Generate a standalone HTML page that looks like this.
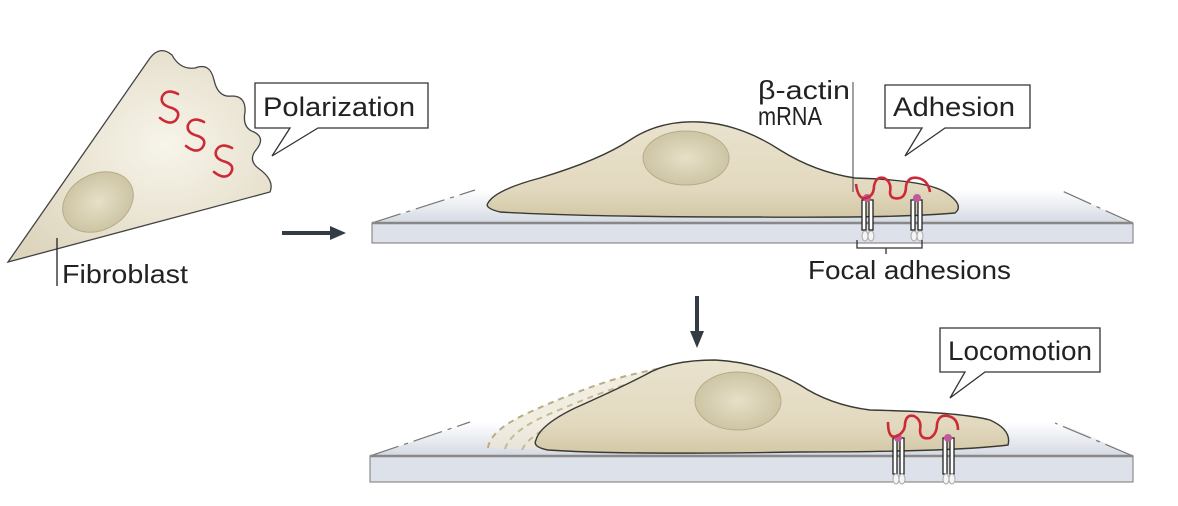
<!DOCTYPE html>
<html><head><meta charset="utf-8"><style>
html,body{margin:0;padding:0;background:#fff;width:1178px;height:506px;overflow:hidden}
svg{display:block}
text{font-family:"Liberation Sans","DejaVu Sans",sans-serif;fill:#222}
</style></head><body>
<svg width="1178" height="506" viewBox="0 0 1178 506">
<defs>
<radialGradient id="cellg" cx="0.6" cy="0.45" r="0.7"><stop offset="0" stop-color="#f7f4ea"/><stop offset="1" stop-color="#ddd5bd"/></radialGradient>
<linearGradient id="cellf" x1="0" y1="0" x2="0" y2="1"><stop offset="0" stop-color="#e9e2cd"/><stop offset="0.7" stop-color="#e2d9bf"/><stop offset="1" stop-color="#d3c8a6"/></linearGradient>
<radialGradient id="nuc" cx="0.5" cy="0.5" r="0.6"><stop offset="0" stop-color="#e6e0c8"/><stop offset="1" stop-color="#c8bf9c"/></radialGradient>
<linearGradient id="plat" x1="0" y1="0" x2="0" y2="1"><stop offset="0" stop-color="#ffffff"/><stop offset="1" stop-color="#d4d9e2"/></linearGradient>
</defs>

<g>
<path d="M8,262 L150,58 Q160,45 172,55 Q180,70 195,68 Q210,62 214,80 Q218,98 232,96 Q246,96 245,112 Q242,128 254,132 Q266,138 256,150 Q248,160 258,168 Q275,180 270,192 Z" fill="url(#cellg)" stroke="#444" stroke-width="1.3"/>
<ellipse cx="98" cy="202" rx="37" ry="28" transform="rotate(-28 98 202)" fill="url(#nuc)" stroke="#b5ac8a" stroke-width="1"/>
<g fill="none" stroke="#cc2a36" stroke-width="2.6" stroke-linecap="round">
<path d="M178,94 Q166,88 162,97 Q160,105 172,108 Q182,112 176,120 Q170,126 160,118"/>
<path d="M204,122 Q192,116 188,125 Q186,133 198,136 Q208,140 202,148 Q196,154 186,146"/>
<path d="M232,148 Q220,142 216,151 Q214,159 226,162 Q236,166 230,174 Q224,180 214,172"/>
</g>
</g>
<line x1="57" y1="238" x2="57" y2="286" stroke="#222" stroke-width="1.3"/>
<text x="62" y="283" font-size="26" textLength="126" lengthAdjust="spacingAndGlyphs">Fibroblast</text>

<g>
<path d="M255,83 H428 V128 H318 L272,156 L290,128 H255 Z" fill="#fff" stroke="#333" stroke-width="1.3"/>
<text x="263" y="116" font-size="27" textLength="152" lengthAdjust="spacingAndGlyphs">Polarization</text>
</g>

<g>
<line x1="282" y1="233" x2="333" y2="233" stroke="#333b45" stroke-width="4"/>
<path d="M330,226 L346,233 L330,240 Z" fill="#333b45"/>
</g>

<g>
<path d="M372,223 L475,190 L1060,190 L1133,223 Z" fill="url(#plat)"/>
<path d="M372,223 L475,190" stroke="#777" stroke-width="1.2" stroke-dasharray="30,6,4,6" fill="none"/>
<path d="M1133,223 L1060,190" stroke="#777" stroke-width="1.2" stroke-dasharray="30,6,4,6" fill="none"/>
<rect x="372" y="223" width="761" height="20" fill="#dde1e9" stroke="#777" stroke-width="1"/>
<line x1="372" y1="223" x2="1133" y2="223" stroke="#888" stroke-width="2.5"/>
</g>
<g>
<path d="M488,203 Q495,190 540,178 Q600,160 630,140 Q660,120 700,122 Q740,124 780,150 Q815,172 855,178 Q925,180 945,192 Q965,205 955,213 Q900,218 760,217 Q580,217 500,212 Q484,208 488,203 Z" fill="url(#cellf)" stroke="#3a3a34" stroke-width="1.4"/>
<ellipse cx="686" cy="158" rx="43" ry="27" fill="url(#nuc)" stroke="#b5ac8a" stroke-width="1"/>
</g>
<g>
<g stroke="#222" stroke-width="1.3" fill="#fff">
<rect x="862" y="200" width="4" height="30"/><rect x="869" y="200" width="4" height="30"/>
<rect x="911" y="200" width="4" height="30"/><rect x="918" y="200" width="4" height="30"/>
</g>
<g stroke="#aaa" stroke-width="1" fill="#f4f4f4">
<ellipse cx="865" cy="236" rx="3" ry="5"/><ellipse cx="871" cy="236" rx="3" ry="5"/>
<ellipse cx="914" cy="236" rx="3" ry="5"/><ellipse cx="920" cy="236" rx="3" ry="5"/>
</g>
<circle cx="867" cy="198" r="4" fill="#c05a9a"/><circle cx="917" cy="198" r="4" fill="#c05a9a"/>
<path d="M856,184 Q858,200 866,198 Q874,196 874,186 Q876,176 884,178 Q892,182 890,192 Q890,200 900,198 Q906,196 906,186 Q908,176 918,178 Q928,180 930,192" fill="none" stroke="#cc2a36" stroke-width="2.6"/>
</g>
<line x1="853" y1="82" x2="853" y2="192" stroke="#444" stroke-width="1"/>
<text x="758" y="99" font-size="26" textLength="92" lengthAdjust="spacingAndGlyphs">β-actin</text>
<text x="758" y="125" font-size="26" textLength="64" lengthAdjust="spacingAndGlyphs">mRNA</text>
<g>
<path d="M885,85 H1030 V128 H945 L905,156 L922,128 H885 Z" fill="#fff" stroke="#333" stroke-width="1.3"/>
<text x="893" y="116" font-size="27" textLength="122" lengthAdjust="spacingAndGlyphs">Adhesion</text>
</g>
<path d="M857,240 V248 H922 V240 M886,248 V254" fill="none" stroke="#333" stroke-width="1.3"/>
<text x="808" y="279" font-size="26" textLength="203" lengthAdjust="spacingAndGlyphs">Focal adhesions</text>

<g>
<line x1="697" y1="296" x2="697" y2="334" stroke="#333b45" stroke-width="4"/>
<path d="M690,331 L697,348 L704,331 Z" fill="#333b45"/>
</g>

<g>
<path d="M370,456 L470,422 L1060,422 L1133,456 Z" fill="url(#plat)"/>
<path d="M370,456 L470,422" stroke="#777" stroke-width="1.2" stroke-dasharray="30,6,4,6" fill="none"/>
<path d="M1133,456 L1055,423" stroke="#777" stroke-width="1.2" stroke-dasharray="30,6,4,6" fill="none"/>
<rect x="370" y="456" width="763" height="26" fill="#dde1e9" stroke="#777" stroke-width="1"/>
<line x1="370" y1="456" x2="1133" y2="456" stroke="#888" stroke-width="2.5"/>
</g>
<g>
<path d="M488,448 Q490,430 530,412 Q590,385 630,375 Q660,368 690,362 L700,380 Q600,400 560,430 L548,450 Z" fill="#ece6d4" opacity="0.7"/>
<path d="M488,448 Q490,430 530,412 Q590,385 630,375 Q660,368 690,362" fill="none" stroke="#b8ad86" stroke-width="2" stroke-dasharray="6,5"/>
<path d="M505,449 Q510,432 545,416 Q600,392 640,380 Q665,372 690,368" fill="none" stroke="#c4ba96" stroke-width="2" stroke-dasharray="6,5"/>
<path d="M522,450 Q528,436 560,421 Q610,398 648,386" fill="none" stroke="#c4ba96" stroke-width="2" stroke-dasharray="6,5"/>
</g>
<g>
<path d="M536,440 Q540,425 575,408 Q620,388 645,375 Q670,360 715,360 Q760,362 800,385 Q830,405 870,410 Q960,412 990,420 Q1012,430 1008,445 Q950,452 800,452 Q620,455 548,450 Q532,447 536,440 Z" fill="url(#cellf)" stroke="#3a3a34" stroke-width="1.4"/>
<ellipse cx="738" cy="401" rx="43" ry="29" fill="url(#nuc)" stroke="#b5ac8a" stroke-width="1"/>
</g>
<g>
<g stroke="#222" stroke-width="1.3" fill="#fff">
<rect x="893" y="438" width="4" height="36"/><rect x="900" y="438" width="4" height="36"/>
<rect x="943" y="438" width="4" height="36"/><rect x="950" y="438" width="4" height="36"/>
</g>
<g stroke="#aaa" stroke-width="1" fill="#f4f4f4">
<ellipse cx="896" cy="479" rx="3" ry="5"/><ellipse cx="902" cy="479" rx="3" ry="5"/>
<ellipse cx="946" cy="479" rx="3" ry="5"/><ellipse cx="952" cy="479" rx="3" ry="5"/>
</g>
<circle cx="898" cy="438" r="4" fill="#c05a9a"/><circle cx="948" cy="438" r="4" fill="#c05a9a"/>
<path d="M888,422 Q888,440 897,436 Q905,432 905,424 Q906,414 914,416 Q922,420 920,430 Q920,440 930,438 Q937,434 937,424 Q939,414 948,416 Q958,418 958,430" fill="none" stroke="#cc2a36" stroke-width="2.6"/>
</g>
<g>
<path d="M940,328 H1100 V372 H985 L950,398 L965,372 H940 Z" fill="#fff" stroke="#333" stroke-width="1.3"/>
<text x="948" y="360" font-size="27" textLength="144" lengthAdjust="spacingAndGlyphs">Locomotion</text>
</g>
</svg>
</body></html>
